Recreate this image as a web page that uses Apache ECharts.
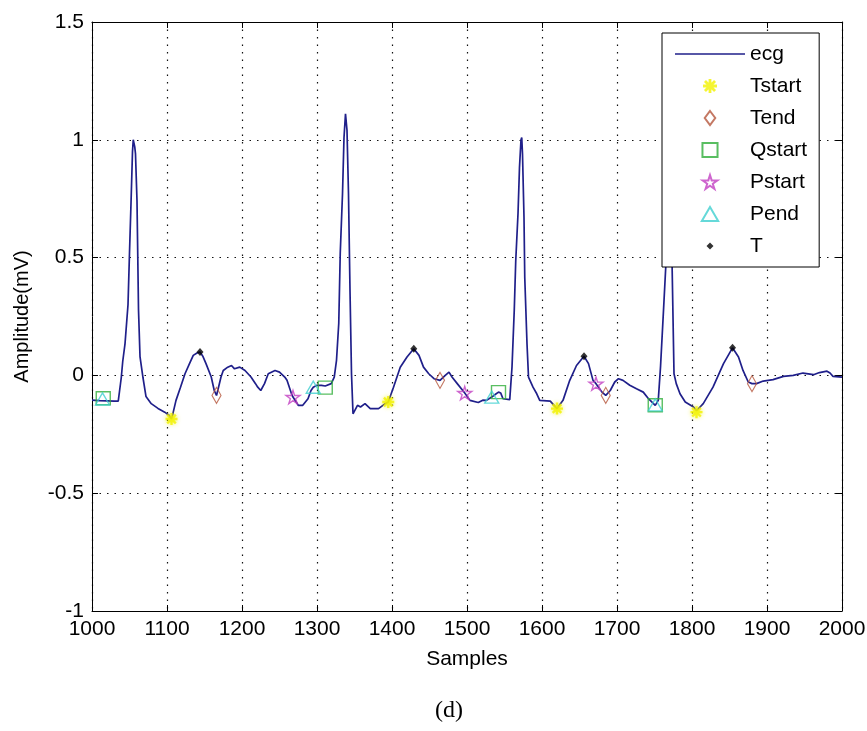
<!DOCTYPE html>
<html>
<head>
<meta charset="utf-8">
<script src="https://cdn.jsdelivr.net/npm/echarts@6/dist/echarts.min.js"></script>
<style>
  html, body { margin: 0; padding: 0; background: #fff; }
  #chart { width: 867px; height: 731px; }
</style>
</head>
<body>
<div id="chart"></div>
<script>
// ECG trace, samples 1000-2000
const ecgSamples = [
  1000, 1010, 1020, 1030, 1035, 1039, 1041, 1044, 1048, 1050, 1052, 1054, 1055, 1057, 1058,
  1060, 1062, 1064, 1068, 1072, 1079, 1088, 1097, 1103, 1106, 1108, 1112, 1118, 1124, 1130,
  1135, 1140, 1144, 1148, 1152, 1159, 1163, 1166, 1168, 1172, 1175, 1181, 1186, 1190, 1197,
  1204, 1212, 1218, 1221, 1225, 1230, 1235, 1244, 1250, 1257, 1260, 1266, 1268, 1275, 1281,
  1288, 1292, 1295, 1300, 1306, 1311, 1319, 1323, 1326, 1329, 1331, 1334, 1336, 1338, 1340,
  1342, 1344, 1346, 1348, 1350, 1354, 1358, 1364, 1371, 1382, 1391, 1395, 1402, 1411, 1420,
  1429, 1436, 1442, 1449, 1456, 1464, 1471, 1476, 1480, 1487, 1497, 1504, 1515, 1521, 1526,
  1533, 1538, 1542, 1545, 1548, 1557, 1560, 1563, 1565, 1568, 1570, 1572, 1573, 1574, 1576,
  1577, 1580, 1582, 1584, 1588, 1593, 1597, 1611, 1620, 1628, 1637, 1646, 1656, 1662, 1668,
  1672, 1680, 1685, 1691, 1697, 1702, 1708, 1717, 1726, 1735, 1742, 1751, 1755, 1758, 1762,
  1765, 1767, 1769, 1771, 1773, 1776, 1779, 1784, 1791, 1802, 1806, 1815, 1828, 1842, 1854,
  1862, 1868, 1875, 1880, 1886, 1895, 1908, 1922, 1935, 1948, 1962, 1970, 1980, 1984, 1988,
  2000
];
const ecgAmplitude = [
  -0.105, -0.107, -0.108, -0.109, -0.109, -0.010, 0.060, 0.134, 0.300, 0.520, 0.730, 0.950, 1.000, 0.970, 0.940,
  0.740, 0.280, 0.080, -0.010, -0.090, -0.120, -0.140, -0.156, -0.170, -0.185, -0.160, -0.106, -0.050, 0.007, 0.050,
  0.085, 0.095, 0.099, 0.080, 0.050, -0.007, -0.064, -0.085, -0.060, -0.007, 0.021, 0.035, 0.042, 0.028, 0.035,
  0.021, -0.007, -0.035, -0.050, -0.064, -0.035, 0.007, 0.021, 0.014, -0.007, -0.021, -0.078, -0.092, -0.127, -0.127,
  -0.099, -0.064, -0.050, -0.042, -0.042, -0.045, -0.035, -0.007, 0.064, 0.220, 0.520, 0.770, 1.010, 1.110, 1.040,
  0.770, 0.360, 0.007, -0.163, -0.170, -0.127, -0.134, -0.120, -0.141, -0.141, -0.120, -0.113, -0.050, 0.035, 0.078,
  0.113, 0.085, 0.035, 0.007, -0.014, -0.021, 0.000, 0.014, -0.007, -0.035, -0.075, -0.106, -0.115, -0.105, -0.106,
  -0.092, -0.080, -0.071, -0.075, -0.099, -0.103, 0.035, 0.276, 0.488, 0.686, 0.884, 1.000, 1.010, 0.940, 0.670,
  0.417, 0.134, -0.007, -0.014, -0.050, -0.078, -0.106, -0.109, -0.141, -0.106, -0.021, 0.042, 0.081, 0.050, -0.021,
  -0.035, -0.071, -0.085, -0.064, -0.028, -0.014, -0.021, -0.042, -0.057, -0.071, -0.099, -0.127, -0.106, 0.035, 0.276,
  0.460, 0.800, 1.000, 0.900, 0.550, 0.007, -0.035, -0.078, -0.113, -0.134, -0.150, -0.120, -0.050, 0.050, 0.117,
  0.078, 0.021, -0.028, -0.035, -0.035, -0.024, -0.018, -0.004, 0.000, 0.010, 0.003, 0.012, 0.018, 0.010, -0.004,
  -0.007
];

// Detected fiducial points [sample, amplitude]
const tStartPts = [[1106, -0.185], [1395, -0.113], [1620, -0.141], [1806, -0.156]];
const tEndPts = [[1166, -0.085], [1464, -0.021], [1685, -0.085], [1880, -0.035]];
const qStartPts = [[1015, -0.097], [1311, -0.052], [1542, -0.071], [1751, -0.127]];
const pStartPts = [[1268, -0.092], [1497, -0.075], [1672, -0.035]];
const pEndPts = [[1014, -0.100], [1295, -0.050], [1533, -0.092], [1751, -0.125]];
const tPeakPts = [[1144, 0.099], [1429, 0.113], [1656, 0.081], [1854, 0.117]];

// Axis ticks
const xTicks = { min: 1000, max: 2000, step: 100 };
const yTicks = { min: -1, max: 1.5, step: 0.5 };

const FONT = '"Liberation Sans", Arial, sans-serif';
const ecgData = ecgSamples.map((s, i) => [s, ecgAmplitude[i]]);

// Marker shapes
const asteriskPath = 'path://M4,0 L6,0 L6,10 L4,10 Z M0,4 L10,4 L10,6 L0,6 Z ' +
  'M0.7,2.1 L2.1,0.7 L9.3,7.9 L7.9,9.3 Z M7.9,0.7 L9.3,2.1 L2.1,9.3 L0.7,7.9 Z';
const pentagramPath = 'path://M50,0 L61,35 L98,35 L68,57 L79,91 L50,70 L21,91 L32,57 L2,35 L39,35 Z';
const diamondPath = 'path://M6,0 L12,8 L6,16 L0,8 Z';
const squarePath = 'path://M0,0 L14,0 L14,13 L0,13 Z';
const trianglePath = 'path://M7,0 L14,12 L0,12 Z';
// legend-only icons: a thin horizontal stroke, and a small dot padded inside a 14x14 box
const lineIcon = 'path://M0,0 L70,0 L70,1.6 L0,1.6 Z';
const smallDotIcon = 'path://M0,0 L0,0 Z M14,14 L14,14 Z M7,3.5 L10.5,7 L7,10.5 L3.5,7 Z';

const chart = echarts.init(document.getElementById('chart'), null, { renderer: 'canvas' });

const commonAxisLine = { show: true, onZero: false, lineStyle: { color: '#000', width: 1 } };
const commonTick = { show: true, inside: true, length: 6, lineStyle: { color: '#000', width: 1 } };
const gridDots = { show: true, lineStyle: { color: '#111', width: 1.2, type: [1.5, 6] } };

function scatter(name, data, symbol, size, style, z) {
  return {
    name, type: 'scatter', data, symbol, symbolSize: size, symbolKeepAspect: true,
    itemStyle: style, z: z || 3, silent: true
  };
}

chart.setOption({
  backgroundColor: '#fff',
  animation: false,
  grid: { left: 92, right: 25, top: 22, bottom: 120, containLabel: false, outerBoundsMode: 'none' },
  xAxis: [
    {
      type: 'value', position: 'bottom', min: xTicks.min, max: xTicks.max, interval: xTicks.step,
      axisLine: commonAxisLine, axisTick: commonTick,
      axisLabel: { color: '#000', fontSize: 21, fontFamily: FONT, margin: 8, formatter: (v) => String(v) },
      splitLine: gridDots,
      name: 'Samples', nameLocation: 'middle', nameGap: 38,
      nameTextStyle: { color: '#000', fontSize: 21, fontFamily: FONT }
    },
    {
      type: 'value', position: 'top', min: xTicks.min, max: xTicks.max, interval: xTicks.step,
      axisLine: commonAxisLine, axisTick: commonTick,
      axisLabel: { show: false }, splitLine: { show: false }
    }
  ],
  yAxis: [
    {
      type: 'value', position: 'left', min: yTicks.min, max: yTicks.max, interval: yTicks.step,
      axisLine: commonAxisLine, axisTick: commonTick,
      axisLabel: { color: '#000', fontSize: 21, fontFamily: FONT, margin: 8, formatter: (v) => String(v) },
      splitLine: gridDots,
      name: 'Amplitude(mV)', nameLocation: 'middle', nameGap: 60, nameRotate: 90,
      nameTextStyle: { color: '#000', fontSize: 20, fontFamily: FONT }
    },
    {
      type: 'value', position: 'right', min: yTicks.min, max: yTicks.max, interval: yTicks.step,
      axisLine: commonAxisLine, axisTick: commonTick,
      axisLabel: { show: false }, splitLine: { show: false }
    }
  ],
  legend: {
    orient: 'vertical', left: 662, top: 33,
    backgroundColor: '#fff', borderColor: '#000', borderWidth: 1, borderRadius: 0,
    padding: [10, 12, 10, 13], itemGap: 10, itemWidth: 70, itemHeight: 14,
    selectedMode: false, symbolKeepAspect: true,
    textStyle: { color: '#000', fontSize: 21, fontFamily: FONT, lineHeight: 22 },
    data: [
      { name: 'ecg', icon: lineIcon, itemStyle: { color: '#1f1f8a', borderWidth: 0 } },
      { name: 'Tstart', icon: asteriskPath },
      { name: 'Tend', icon: diamondPath },
      { name: 'Qstart', icon: squarePath },
      { name: 'Pstart', icon: pentagramPath },
      { name: 'Pend', icon: trianglePath },
      { name: 'T', icon: smallDotIcon }
    ]
  },
  graphic: [
    {
      type: 'text', left: 435, top: 699,
      style: { text: '(d)', fontSize: 24, fontFamily: '"Liberation Serif", "Times New Roman", serif', fill: '#000' }
    }
  ],
  series: [
    {
      name: 'ecg', type: 'line', data: ecgData, symbol: 'none', z: 2, silent: true,
      lineStyle: { color: '#1f1f8a', width: 1.7 }, itemStyle: { color: '#1f1f8a' }
    },
    scatter('Tstart', tStartPts, asteriskPath, 12,
      { color: '#f2f200', shadowBlur: 4, shadowColor: 'rgba(240,240,0,0.8)' }),
    scatter('Tend', tEndPts, diamondPath, [12, 16],
      { color: 'rgba(0,0,0,0)', borderColor: '#b5563c', borderWidth: 1.2 }),
    scatter('Qstart', qStartPts, squarePath, 14,
      { color: 'rgba(0,0,0,0)', borderColor: '#2fae3a', borderWidth: 1.4 }),
    scatter('Pstart', pStartPts, pentagramPath, 14,
      { color: 'rgba(0,0,0,0)', borderColor: '#c23fc2', borderWidth: 1.4 }),
    scatter('Pend', pEndPts, trianglePath, 14,
      { color: 'rgba(0,0,0,0)', borderColor: '#3fcfcf', borderWidth: 1.4 }),
    scatter('T', tPeakPts, 'diamond', [7, 8], { color: '#000' }, 4)
  ]
});
</script>
</body>
</html>
